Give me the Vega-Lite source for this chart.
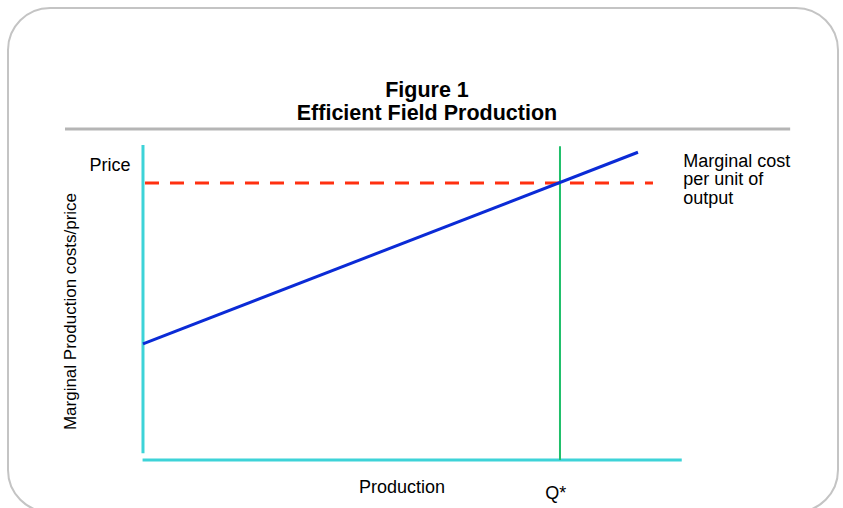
{
  "$schema": "https://vega.github.io/schema/vega-lite/v6.json",
  "width": 843,
  "height": 508,
  "autosize": {"type": "none"},
  "padding": 0,
  "background": "white",
  "config": {"view": {"stroke": null}, "font": "Liberation Sans"},
  "datasets": {
    "frame": [{"x0": -32.37, "x1": 166.67, "y0": -1.88, "y1": 16.32}],
    "divider": [{"x0": -18.7, "x1": 155.2, "y": 11.95}],
    "yaxis": [{"x": 0, "y0": 0.24, "y1": 11.37}],
    "xaxis": [{"x0": -0.1, "x1": 129.2, "y": 0}],
    "qstar": [{"x": 100, "y0": 0, "y1": 11.33}],
    "price": [{"x0": 0.48, "x1": 122.3, "y": 10}],
    "cost": [{"production": 0, "cost": 4.19}, {"production": 118.7, "cost": 11.11}],
    "titles": [{"label": "Figure 1\nEfficient Field Production", "x": 68.1, "y": 13.1}],
    "labels": [
      {"label": "Price", "x": -7.91, "y": 10.45},
      {"label": "Production", "x": 62.11, "y": -1.19},
      {"label": "Q*", "x": 99.0, "y": -1.41}
    ],
    "legendText": [{"label": "Marginal cost\nper unit of\noutput", "x": 129.57, "y": 10.59}],
    "ytitle": [{"label": "Marginal Production costs/price", "x": -17.15, "y": 5.36}]
  },
  "layer": [
    {
      "data": {"name": "frame"},
      "mark": {"type": "rect", "fill": "transparent", "stroke": "#c4c4c4", "strokeWidth": 2, "cornerRadius": 42},
      "encoding": {
        "x": {"field": "x0", "type": "quantitative", "scale": {"domain": [-34.29, 167.87], "nice": false, "zero": false}, "axis": null},
        "x2": {"field": "x1"},
        "y": {"field": "y0", "type": "quantitative", "scale": {"domain": [-1.733, 16.606], "nice": false, "zero": false}, "axis": null},
        "y2": {"field": "y1"}
      }
    },
    {
      "data": {"name": "divider"},
      "mark": {"type": "rule", "color": "#b5b5b5", "strokeWidth": 3},
      "encoding": {
        "x": {"field": "x0", "type": "quantitative"},
        "x2": {"field": "x1"},
        "y": {"field": "y", "type": "quantitative"}
      }
    },
    {
      "data": {"name": "yaxis"},
      "mark": {"type": "rule", "color": "#3dd3d8", "strokeWidth": 3},
      "encoding": {
        "x": {"field": "x", "type": "quantitative"},
        "y": {"field": "y0", "type": "quantitative"},
        "y2": {"field": "y1"}
      }
    },
    {
      "data": {"name": "xaxis"},
      "mark": {"type": "rule", "color": "#3dd3d8", "strokeWidth": 3},
      "encoding": {
        "x": {"field": "x0", "type": "quantitative"},
        "x2": {"field": "x1"},
        "y": {"field": "y", "type": "quantitative"}
      }
    },
    {
      "data": {"name": "qstar"},
      "mark": {"type": "rule", "color": "#1fbf6a", "strokeWidth": 2},
      "encoding": {
        "x": {"field": "x", "type": "quantitative"},
        "y": {"field": "y0", "type": "quantitative"},
        "y2": {"field": "y1"}
      }
    },
    {
      "data": {"name": "price"},
      "mark": {"type": "rule", "color": "#ff3010", "strokeWidth": 3, "strokeDash": [14, 11]},
      "encoding": {
        "x": {"field": "x0", "type": "quantitative"},
        "x2": {"field": "x1"},
        "y": {"field": "y", "type": "quantitative"}
      }
    },
    {
      "data": {"name": "cost"},
      "mark": {"type": "line", "color": "#0b2bd6", "strokeWidth": 3},
      "encoding": {
        "x": {"field": "production", "type": "quantitative"},
        "y": {"field": "cost", "type": "quantitative"}
      }
    },
    {
      "data": {"name": "titles"},
      "mark": {"type": "text", "fontSize": 21.5, "fontWeight": "bold", "color": "black", "align": "center", "baseline": "alphabetic", "lineBreak": "\n", "lineHeight": 23},
      "encoding": {
        "x": {"field": "x", "type": "quantitative"},
        "y": {"field": "y", "type": "quantitative"},
        "text": {"field": "label"}
      }
    },
    {
      "data": {"name": "labels"},
      "mark": {"type": "text", "fontSize": 18, "color": "black", "align": "center", "baseline": "alphabetic"},
      "encoding": {
        "x": {"field": "x", "type": "quantitative"},
        "y": {"field": "y", "type": "quantitative"},
        "text": {"field": "label"}
      }
    },
    {
      "data": {"name": "legendText"},
      "mark": {"type": "text", "fontSize": 18, "color": "black", "align": "left", "baseline": "alphabetic", "lineBreak": "\n", "lineHeight": 18.5},
      "encoding": {
        "x": {"field": "x", "type": "quantitative"},
        "y": {"field": "y", "type": "quantitative"},
        "text": {"field": "label"}
      }
    },
    {
      "data": {"name": "ytitle"},
      "mark": {"type": "text", "fontSize": 17, "color": "black", "align": "center", "baseline": "middle", "angle": 270},
      "encoding": {
        "x": {"field": "x", "type": "quantitative"},
        "y": {"field": "y", "type": "quantitative"},
        "text": {"field": "label"}
      }
    }
  ]
}
